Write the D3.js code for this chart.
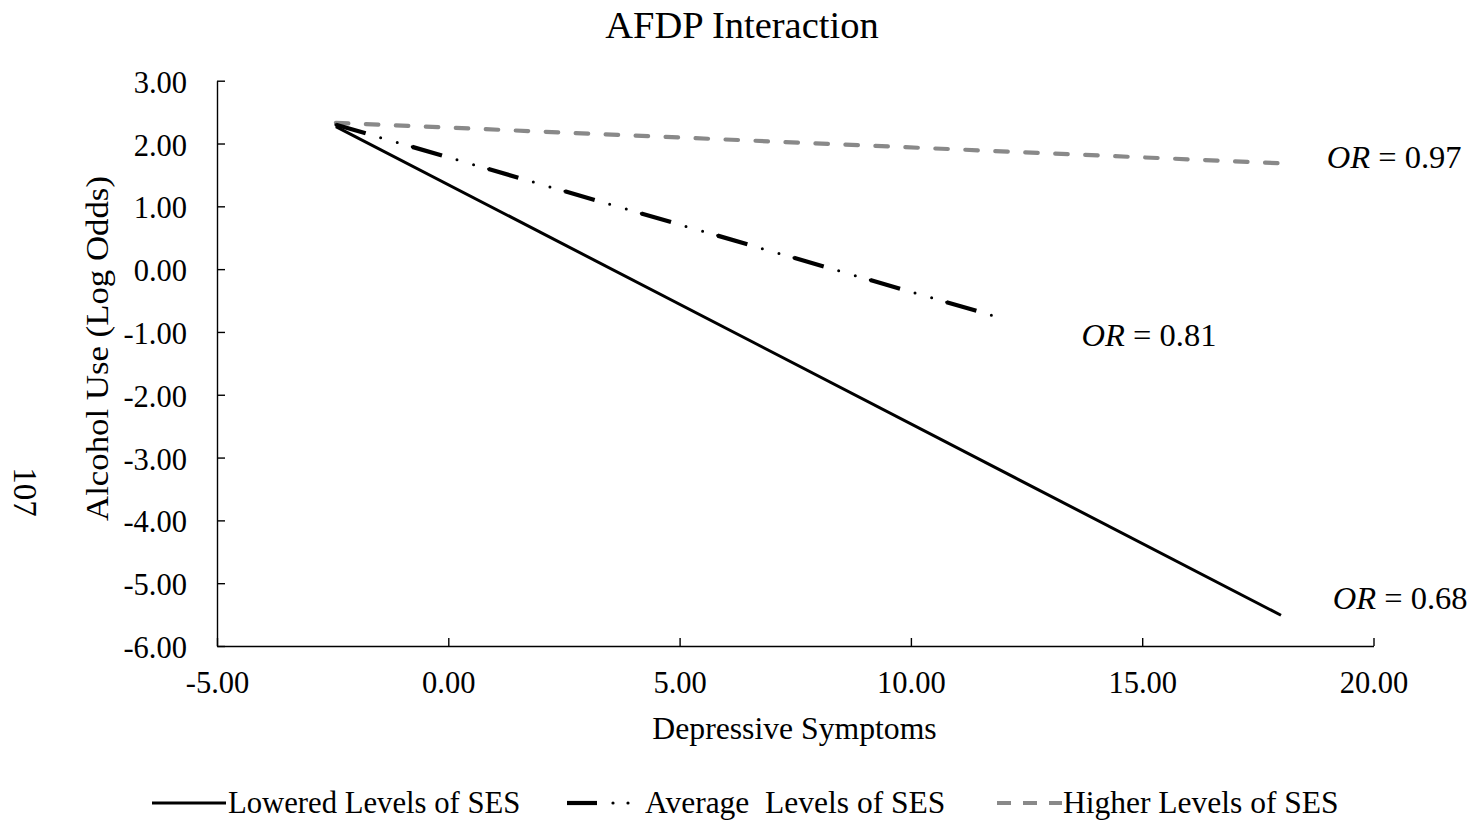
<!DOCTYPE html>
<html>
<head>
<meta charset="utf-8">
<script src="https://cdn.jsdelivr.net/npm/d3@7"></script>
<style>
  html, body { margin: 0; padding: 0; background: #fff; }
  svg { display: block; }
  text { font-family: "Liberation Serif", "Times New Roman", serif; fill: #000; }
</style>
</head>
<body>
<svg id="chart" width="1473" height="822"></svg>
<script>
// ---- data ----
const xTicks = [-5, 0, 5, 10, 15, 20];
const yTicks = [3, 2, 1, 0, -1, -2, -3, -4, -5, -6];
const seriesNames = ["Lowered Levels of SES", "Average  Levels of SES", "Higher Levels of SES"];
const loweredX = [-2.43, 18.0];
const loweredY = [2.27, -5.51];
const averageX = [-2.43, 11.77];
const averageY = [2.30, -0.74];
const higherX = [-2.43, 18.0];
const higherY = [2.33, 1.685];
const orLabels = ["0.68", "0.81", "0.97"];
const orX = [19.12, 13.69, 18.99];
const orY = [-5.41, -1.23, 1.61];

// ---- layout ----
const svg = d3.select("#chart");
svg.append("rect").attr("width", 1473).attr("height", 822).attr("fill", "#fff");

const x = d3.scaleLinear().domain([-5, 20]).range([217, 1373.5]);
const y = d3.scaleLinear().domain([-6, 3]).range([646, 80.7]);

const fmt = d => d.toFixed(2);

// axes
const yAxis = svg.append("g").attr("transform", `translate(${x(-5)},0)`)
  .call(d3.axisLeft(y).tickValues(yTicks).tickSizeInner(-8).tickSizeOuter(0).tickPadding(30).tickFormat(fmt));
const xAxis = svg.append("g").attr("transform", `translate(0,${y(-6)})`)
  .call(d3.axisBottom(x).tickValues(xTicks).tickSizeInner(-8).tickSizeOuter(0).tickPadding(25.5).tickFormat(fmt));
[yAxis, xAxis].forEach(g => {
  g.select(".domain").attr("stroke", "#000").attr("stroke-width", 1.4);
  g.selectAll(".tick line").attr("stroke", "#000").attr("stroke-width", 1.4);
  g.selectAll(".tick text").attr("font-size", 30.5).attr("font-family", '"Liberation Serif", "Times New Roman", serif').attr("fill", "#000");
});
yAxis.selectAll(".tick text").attr("dy", "0.38em");

// lines
const line = d3.line().x(d => x(d[0])).y(d => y(d[1]));
const lowered = d3.zip(loweredX, loweredY);
const average = d3.zip(averageX, averageY);
const higher = d3.zip(higherX, higherY);

svg.append("path").datum(higher).attr("d", line)
  .attr("fill", "none").attr("stroke", "#898989").attr("stroke-width", 4.2)
  .attr("stroke-linecap", "round").attr("stroke-dasharray", "12.5 17.5");
svg.append("path").datum(average).attr("d", line)
  .attr("fill", "none").attr("stroke", "#000").attr("stroke-width", 4.2)
  .attr("stroke-dasharray", "31 48.5");
svg.append("path").datum(average).attr("d", line)
  .attr("fill", "none").attr("stroke", "#000").attr("stroke-width", 3)
  .attr("stroke-linecap", "round").attr("stroke-dasharray", "0 46.6 0 17.3 0 15.6");
svg.append("path").datum(lowered).attr("d", line)
  .attr("fill", "none").attr("stroke", "#000").attr("stroke-width", 3);

// OR annotations
orLabels.forEach((lab, i) => {
  const t = svg.append("text").attr("x", x(orX[i])).attr("y", y(orY[i])).attr("font-size", 32.5)
    .attr("xml:space", "preserve");
  t.append("tspan").attr("font-style", "italic").text("OR");
  t.append("tspan").text(" = " + lab);
});

// titles
svg.append("text").attr("x", 742).attr("y", 37.5).attr("text-anchor", "middle")
  .attr("font-size", 38.5).text("AFDP Interaction");
svg.append("text").attr("x", 794.5).attr("y", 739).attr("text-anchor", "middle")
  .attr("font-size", 31.7).text("Depressive Symptoms");
svg.append("text").attr("transform", "translate(108,348.5) rotate(-90)").attr("text-anchor", "middle")
  .attr("font-size", 32).attr("textLength", 345).attr("lengthAdjust", "spacingAndGlyphs")
  .text("Alcohol Use (Log Odds)");
svg.append("text").attr("transform", "translate(14,492) rotate(90)").attr("text-anchor", "middle")
  .attr("font-size", 33).text("107");

// legend
const legY = 803;
const legItems = [
  { x0: 152, x1: 226, tx: 228, stroke: "#000", w: 3, dash: null },
  { x0: 567, x1: 640, tx: 645, stroke: "#000", w: 4.2, dash: "dashdot" },
  { x0: 997, x1: 1062, tx: 1063, stroke: "#898989", w: 4.2, dash: "14 12" }
];
const legSizes = [30.7, 31.5, 31.5];
legItems.forEach((it, i) => {
  if (it.dash === "dashdot") {
    svg.append("line").attr("x1", it.x0).attr("x2", it.x0 + 30).attr("y1", legY).attr("y2", legY)
      .attr("stroke", "#000").attr("stroke-width", 4.2);
    [it.x0 + 46, it.x0 + 61].forEach(cx => svg.append("circle").attr("cx", cx).attr("cy", legY).attr("r", 1.6).attr("fill", "#000"));
  } else {
    const l = svg.append("line").attr("x1", it.x0).attr("x2", it.x1).attr("y1", legY).attr("y2", legY)
      .attr("stroke", it.stroke).attr("stroke-width", it.w);
    if (it.dash) l.attr("stroke-dasharray", it.dash).attr("stroke-linecap", "butt");
  }
  svg.append("text").attr("x", it.tx).attr("y", legY + 10).attr("font-size", legSizes[i])
    .attr("xml:space", "preserve").style("white-space", "pre").text(seriesNames[i]);
});
</script>
</body>
</html>
